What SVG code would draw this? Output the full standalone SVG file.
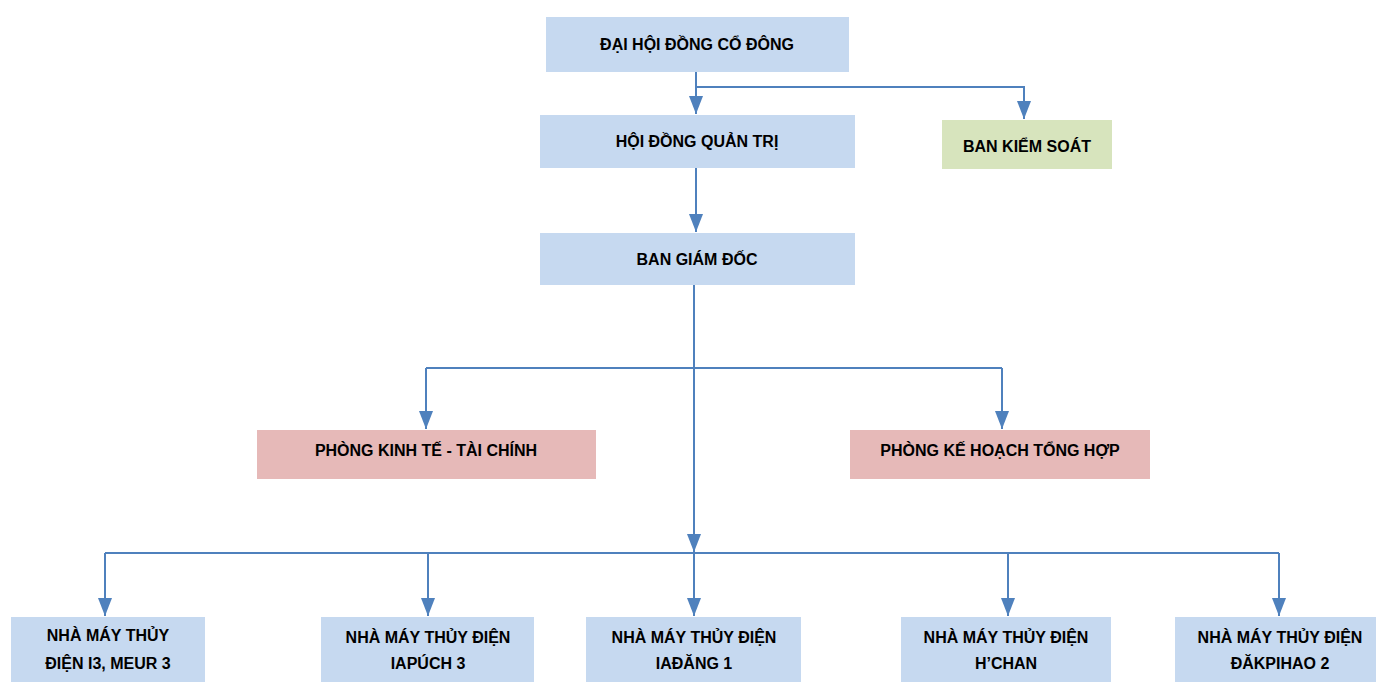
<svg xmlns="http://www.w3.org/2000/svg" width="1376" height="682" viewBox="0 0 1376 682">
<style>
.b{fill:#c6d9f0}
.g{fill:#d7e4bd}
.r{fill:#e6b9b8}
text{font-family:"Liberation Sans",Arial,sans-serif;font-weight:bold;font-size:16px;fill:#000;text-anchor:middle}
.c{fill:none;stroke:#4f81bd;stroke-width:2}
</style>
<defs>
<marker id="m" markerWidth="14" markerHeight="18" refX="7" refY="18" orient="0" markerUnits="userSpaceOnUse" viewBox="0 0 14 18">
<path d="M0,0 L14,0 L7,18 Z" fill="#4f81bd"/>
</marker>
</defs>
<rect width="1376" height="682" fill="#fff"/>
<g id="connectors">
<path class="c" d="M696,72 V114" marker-end="url(#m)"/>
<path class="c" d="M696,87 H1024 V119" marker-end="url(#m)"/>
<path class="c" d="M696,168 V232" marker-end="url(#m)"/>
<path class="c" d="M694,285 V552" marker-end="url(#m)"/>
<path class="c" d="M426,368 H1002"/>
<path class="c" d="M426,368 V429" marker-end="url(#m)"/>
<path class="c" d="M1002,368 V429" marker-end="url(#m)"/>
<path class="c" d="M105,553 H1279"/>
<path class="c" d="M105,553 V616" marker-end="url(#m)"/>
<path class="c" d="M428,553 V616" marker-end="url(#m)"/>
<path class="c" d="M694,553 V616" marker-end="url(#m)"/>
<path class="c" d="M1008,553 V616" marker-end="url(#m)"/>
<path class="c" d="M1279,553 V616" marker-end="url(#m)"/>
</g>
<g id="dhdcd"><rect class="b" x="546" y="17" width="303" height="55"/><text x="697" y="50">ĐẠI HỘI ĐỒNG CỔ ĐÔNG</text></g>
<g id="hdqt"><rect class="b" x="540" y="115" width="315" height="53"/><text x="697" y="147">HỘI ĐỒNG QUẢN TRỊ</text></g>
<g id="bks"><rect class="g" x="942" y="120" width="170" height="49"/><text x="1027" y="152">BAN KIỂM SOÁT</text></g>
<g id="bgd"><rect class="b" x="540" y="233" width="315" height="52"/><text x="697" y="265">BAN GIÁM ĐỐC</text></g>
<g id="pkt"><rect class="r" x="257" y="430" width="339" height="49"/><text x="426" y="456">PHÒNG KINH TẾ - TÀI CHÍNH</text></g>
<g id="pkh"><rect class="r" x="850" y="430" width="300" height="49"/><text x="1000" y="456">PHÒNG KẾ HOẠCH TỔNG HỢP</text></g>
<g id="nm1"><rect class="b" x="11" y="617" width="194" height="65"/><text x="108" y="641">NHÀ MÁY THỦY</text><text x="108" y="669">ĐIỆN I3, MEUR 3</text></g>
<g id="nm2"><rect class="b" x="321" y="617" width="213" height="65"/><text x="428" y="643">NHÀ MÁY THỦY ĐIỆN</text><text x="428" y="669">IAPÚCH 3</text></g>
<g id="nm3"><rect class="b" x="586" y="617" width="215" height="65"/><text x="694" y="643">NHÀ MÁY THỦY ĐIỆN</text><text x="694" y="669">IAĐĂNG 1</text></g>
<g id="nm4"><rect class="b" x="901" y="617" width="210" height="65"/><text x="1006" y="643">NHÀ MÁY THỦY ĐIỆN</text><text x="1006" y="669">H’CHAN</text></g>
<g id="nm5"><rect class="b" x="1175" y="617" width="201" height="65"/><text x="1280" y="643">NHÀ MÁY THỦY ĐIỆN</text><text x="1280" y="669">ĐĂKPIHAO 2</text></g>
</svg>
